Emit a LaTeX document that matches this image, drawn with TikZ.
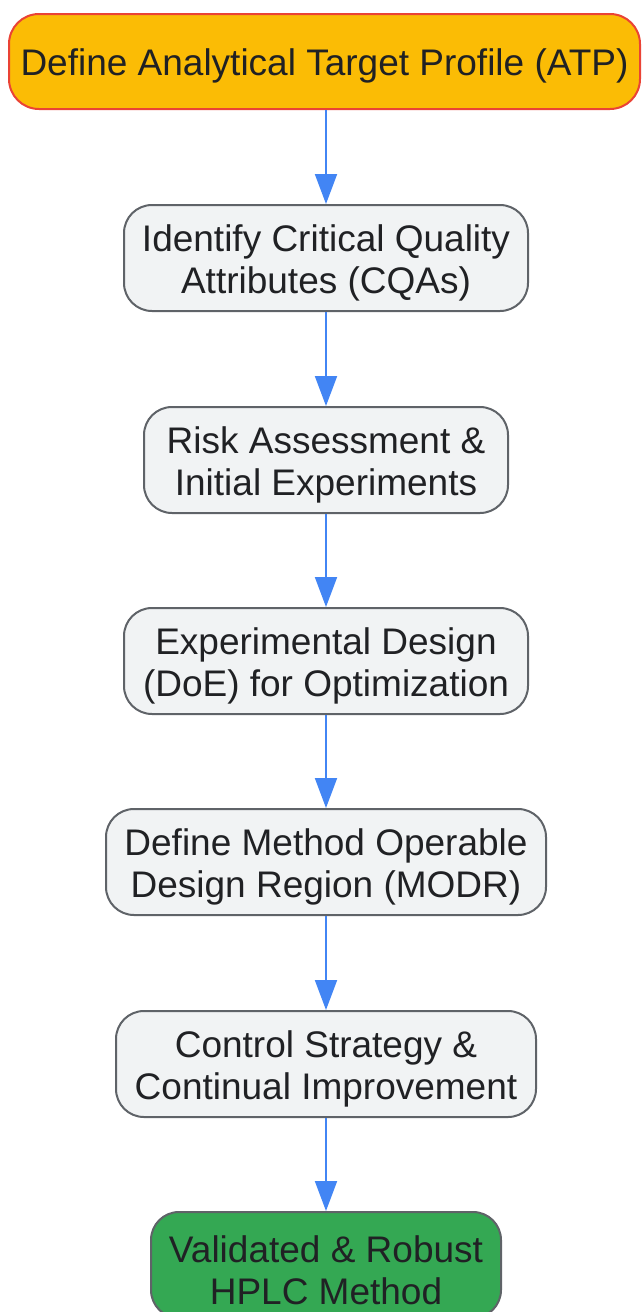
\documentclass[tikz,border=0pt]{standalone}
\usepackage{fontspec}
\setmainfont{Liberation Sans}
\usetikzlibrary{arrows.meta}
\definecolor{amber}{HTML}{FBBC05}
\definecolor{redline}{HTML}{EA4335}
\definecolor{grayfill}{HTML}{F1F3F4}
\definecolor{grayline}{HTML}{5F6368}
\definecolor{greenfill}{HTML}{34A853}
\definecolor{arrowblue}{HTML}{4285F4}
\definecolor{txt}{HTML}{202124}
\tikzset{
  box/.style={draw=grayline, fill=grayfill, line width=2pt, rounded corners=28pt,
    inner sep=0pt, minimum height=106pt},
  startbox/.style={box, draw=redline, fill=amber, minimum height=95pt, rounded corners=30pt},
  endbox/.style={box, fill=greenfill},
  lbl/.style={align=center, text=txt, inner sep=0pt, yshift=-5pt,
    font=\fontsize{37}{42}\selectfont},
  flow/.style={draw=arrowblue, line width=2pt, -{Triangle[length=30pt,width=22pt]}}
}
\begin{document}
\begin{tikzpicture}[x=1pt,y=-1pt]
\useasboundingbox (0,0) rectangle (641,1312);
\node[startbox, minimum width=631pt] (atp) at (324.5,61.5) {};
\node[box, minimum width=404pt] (cqa) at (326,258) {};
\node[box, minimum width=364pt] (risk) at (326,460) {};
\node[box, minimum width=404pt] (doe) at (326,661) {};
\node[box, minimum width=440pt] (modr) at (326,862) {};
\node[box, minimum width=420pt] (ctrl) at (326,1064) {};
\node[endbox, minimum width=350pt] (val) at (326,1265) {};
\node[lbl, yshift=1pt] (atp-t) at (atp.center) {Define Analytical Target Profile (ATP)};
\node[lbl] (cqa-t) at (cqa.center) {Identify Critical Quality\\Attributes (CQAs)};
\node[lbl] (risk-t) at (risk.center) {Risk Assessment \&\\Initial Experiments};
\node[lbl] (doe-t) at (doe.center) {Experimental Design\\(DoE) for Optimization};
\node[lbl] (modr-t) at (modr.center) {Define Method Operable\\Design Region (MODR)};
\node[lbl] (ctrl-t) at (ctrl.center) {Control Strategy \&\\Continual Improvement};
\node[lbl] (val-t) at (val.center) {Validated \& Robust\\HPLC Method};
\draw[flow] (atp.south -| cqa.north) -- (cqa.north);
\draw[flow] (cqa) -- (risk);
\draw[flow] (risk) -- (doe);
\draw[flow] (doe) -- (modr);
\draw[flow] (modr) -- (ctrl);
\draw[flow] (ctrl) -- (val);
\end{tikzpicture}
\end{document}
